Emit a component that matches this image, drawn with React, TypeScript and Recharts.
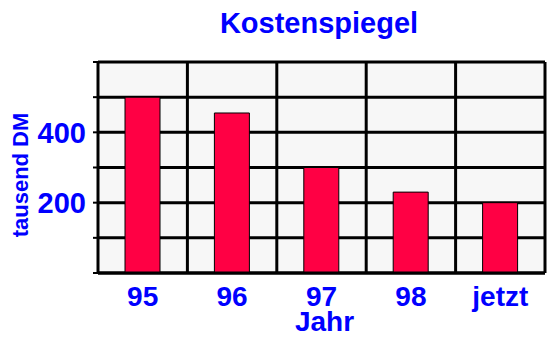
import React from 'react';
import { BarChart, Bar, XAxis, YAxis, CartesianGrid, Label, Customized } from 'recharts';

const years = ['95', '96', '97', '98', 'jetzt'];
const kosten = [500, 455, 300, 230, 200];
const yTicks = [0, 100, 200, 300, 400, 500, 600];
const shownTicks = [200, 400];

const data = years.map((jahr, i) => ({ jahr, kosten: kosten[i] }));

const BLUE = '#0000ff';
const FONT = '"Liberation Sans", Arial, sans-serif';

const Title = () => (
  <text x={319} y={33} textAnchor="middle" fill={BLUE} fontFamily={FONT} fontWeight="bold" fontSize={29}>
    Kostenspiegel
  </text>
);

const YLabel = () => (
  <text
    x={20}
    y={175}
    transform="rotate(-90, 20, 175)"
    textAnchor="middle"
    dominantBaseline="central"
    fill={BLUE}
    fontFamily={FONT}
    fontWeight="bold"
    fontSize={22}
  >
    tausend DM
  </text>
);

export default function App() {
  return (
    <div style={{ position: 'absolute', left: 0, top: 0, background: '#fff' }}>
      <BarChart width={550} height={338} data={data} margin={{ top: 62, right: 5, bottom: 0, left: 0 }}>
        <CartesianGrid
          fill="#f7f7f7"
          stroke="#000"
          strokeWidth={3}
          verticalCoordinatesGenerator={({ offset }: any) =>
            years.map((_, i) => offset.left + (i * offset.width) / years.length).concat(offset.left + offset.width)
          }
        />
        <XAxis
          dataKey="jahr"
          height={65}
          tickLine={false}
          tickSize={6}
          tickMargin={7}
          axisLine={{ stroke: '#000', strokeWidth: 3 }}
          tick={{ fill: BLUE, fontSize: 28, fontWeight: 'bold', fontFamily: FONT }}
          interval={0}
        >
          <Label
            value="Jahr"
            position="insideBottom"
            offset={7}
            dx={3}
            fill={BLUE}
            fontSize={28}
            fontWeight="bold"
            fontFamily={FONT}
          />
        </XAxis>
        <YAxis
          width={98}
          domain={[0, 600]}
          ticks={yTicks}
          interval={0}
          tickSize={5}
          tickMargin={7}
          tickLine={{ stroke: '#000', strokeWidth: 2 }}
          axisLine={{ stroke: '#000', strokeWidth: 2 }}
          tickFormatter={(v: number) => (shownTicks.includes(v) ? String(v) : '')}
          tick={{ fill: BLUE, fontSize: 29, fontWeight: 'bold', fontFamily: FONT }}
        />
        <Bar dataKey="kosten" fill="#ff0044" stroke="#000" strokeWidth={1} barSize={35} isAnimationActive={false} />
        <Customized component={Title} />
        <Customized component={YLabel} />
      </BarChart>
    </div>
  );
}
